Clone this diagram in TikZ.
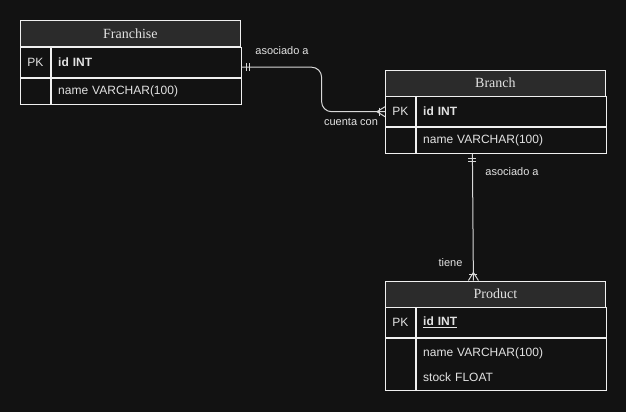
\documentclass[tikz,border=0pt]{standalone}
\usepackage{fontspec}
\setmainfont{Liberation Sans}
\newfontfamily\titlefont{Liberation Serif}
\usetikzlibrary{positioning}
\definecolor{bgc}{HTML}{121212}
\definecolor{hdrc}{HTML}{2B2B2B}
\definecolor{linec}{HTML}{F0F0F0}
\definecolor{txtc}{HTML}{E2E2E2}
\definecolor{connc}{HTML}{D8D8D8}

\begin{document}
\begin{tikzpicture}[x=1pt,y=-1pt,
      table_head/.style={
         draw=linec,
         line width=0.8pt,
         fill=hdrc,
         anchor=north west,
         inner sep=0pt,
         minimum width=220pt,
         minimum height=26pt,
         text=txtc,
         font=\titlefont\fontsize{14}{16}\selectfont},
      key_cell/.style={
         draw=linec,
         line width=0.8pt,
         anchor=north west,
         inner sep=0pt,
         minimum width=30pt,
         minimum height=30pt,
         text=txtc,
         font=\fontsize{12}{14}\selectfont},
      field_cell/.style={
         draw=linec,
         line width=0.8pt,
         anchor=north west,
         inner sep=7pt,
         text width=176pt,
         align=left,
         minimum height=30pt,
         text=txtc,
         font=\fontsize{12}{14}\selectfont},
      conn_line/.style={
         draw=connc,
         line width=1pt},
      conn_label/.style={
         inner sep=0pt,
         text=txtc,
         font=\fontsize{11}{13}\selectfont}
]
      \fill[bgc] (0,0) rectangle (626,412);
      \useasboundingbox (0,0) rectangle (626,412);

      %Franchise
      \node[table_head] (fr) at (20,20) {Franchise};
      \node[key_cell] (frpk) at (fr.south west) {PK};
      \node[field_cell] (frid) at (frpk.north east) {\textbf{id INT}};
      \node[key_cell,minimum height=26pt] (frkey2) at (frpk.south west) {};
      \node[field_cell,minimum height=26pt] (frname) at (frkey2.north east) {name VARCHAR(100)};

      %Branch
      \node[table_head] (br) at (385,69.5) {Branch};
      \node[key_cell] (brpk) at (br.south west) {PK};
      \node[field_cell] (brid) at (brpk.north east) {\textbf{id INT}};
      \node[key_cell,minimum height=26pt] (brkey2) at (brpk.south west) {};
      \node[field_cell,minimum height=26pt] (brname) at (brkey2.north east) {name VARCHAR(100)};

      %Product
      \node[table_head] (pr) at (385,280.5) {Product};
      \node[key_cell] (prpk) at (pr.south west) {PK};
      \node[field_cell] (prid) at (prpk.north east) {\underline{\textbf{id INT}}};
      \node[key_cell,minimum height=52pt] (prkey2) at (prpk.south west) {};
      \node[field_cell,minimum height=52pt] (prfields) at (prkey2.north east) {name VARCHAR(100)\\[11pt]stock FLOAT};

      %Franchise -- Branch
      \coordinate (fr_end) at ([yshift=-5pt]frid.east);
      \draw[conn_line,rounded corners=10pt] (fr_end) -- ++(80,0) |- (brpk.west);
      \foreach \dx in {5,8}
        \draw[conn_line] ([xshift=\dx pt]fr_end) ++(0,-4) -- ++(0,8);
      \draw[conn_line] ([xshift=-6pt]brpk.west) ++(0,-4) -- ++(0,8);
      \draw[conn_line] ([xshift=-8pt]brpk.west) -- ++(8,-5);
      \draw[conn_line] ([xshift=-8pt]brpk.west) -- ++(8,5);
      \node[conn_label] (lbl1) at (282,51) {asociado a};
      \node[conn_label] (lbl2) at (351,122) {cuenta con};

      %Branch -- Product
      \coordinate (br_end) at ([xshift=-23pt]brname.south west -| br.south);
      \coordinate (pr_end) at ([xshift=-22pt]pr.north);
      \draw[conn_line] (br_end) -- (pr_end);
      \foreach \dy in {5,8}
        \draw[conn_line] ([yshift=-\dy pt]br_end) ++(-4,0) -- ++(8,0);
      \draw[conn_line] ([yshift=6pt]pr_end) ++(-4,0) -- ++(8,0);
      \draw[conn_line] ([yshift=8pt]pr_end) -- ++(-5,8);
      \draw[conn_line] ([yshift=8pt]pr_end) -- ++(5,8);
      \node[conn_label] (lbl3) at (512,172) {asociado a};
      \node[conn_label] (lbl4) at (450.5,263) {tiene};

\end{tikzpicture}
\end{document}
